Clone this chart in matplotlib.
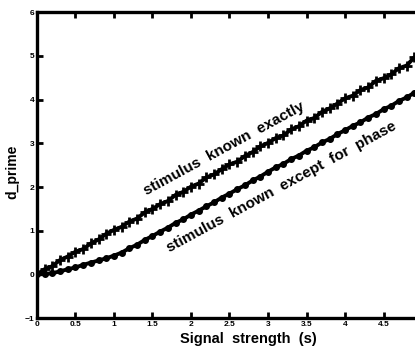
#!/usr/bin/env python3
"""d prime vs signal strength: known exactly vs known except for phase."""

import matplotlib
matplotlib.use('Agg')
import matplotlib.pyplot as plt

# signal strength grid (s)
signal = [0.0, 0.1, 0.2, 0.3, 0.4, 0.5, 0.6, 0.7, 0.8, 0.9,
	1.0, 1.1, 1.2, 1.3, 1.4, 1.5, 1.6, 1.7, 1.8, 1.9,
	2.0, 2.1, 2.2, 2.3, 2.4, 2.5, 2.6, 2.7, 2.8, 2.9,
	3.0, 3.1, 3.2, 3.3, 3.4, 3.5, 3.6, 3.7, 3.8, 3.9,
	4.0, 4.1, 4.2, 4.3, 4.4, 4.5, 4.6, 4.7, 4.8, 4.9, 5.0]

# simulated d' : stimulus known exactly
dprime_exact = [0.00, 0.12, 0.19, 0.33, 0.41, 0.52, 0.58, 0.71, 0.80, 0.93,
	1.02, 1.09, 1.21, 1.28, 1.42, 1.50, 1.61, 1.68, 1.82, 1.89,
	2.01, 2.08, 2.22, 2.29, 2.41, 2.52, 2.58, 2.71, 2.80, 2.93,
	3.01, 3.12, 3.18, 3.32, 3.39, 3.52, 3.58, 3.72, 3.80, 3.91,
	4.03, 4.09, 4.22, 4.28, 4.43, 4.49, 4.58, 4.72, 4.78, 4.97, 5.02]

# simulated d' : stimulus known except for phase
dprime_phase = [0.00, 0.01, 0.03, 0.07, 0.12, 0.16, 0.22, 0.27, 0.32, 0.37,
	0.43, 0.50, 0.60, 0.68, 0.79, 0.88, 0.98, 1.07, 1.18, 1.26,
	1.37, 1.46, 1.56, 1.65, 1.76, 1.85, 1.95, 2.04, 2.15, 2.24,
	2.35, 2.45, 2.53, 2.64, 2.72, 2.83, 2.91, 3.02, 3.10, 3.21,
	3.30, 3.40, 3.48, 3.59, 3.67, 3.78, 3.86, 3.97, 4.05, 4.16, 4.24]

x_ticks = [0, 0.5, 1, 1.5, 2, 2.5, 3, 3.5, 4, 4.5, 5]
# the "5" label falls off the right edge of the original scan
x_tick_labels = ['0', '0.5', '1', '1.5', '2', '2.5', '3', '3.5', '4', '4.5', '']
y_ticks = [-1, 0, 1, 2, 3, 4, 5, 6]

plt.rcParams['font.family'] = ['Liberation Sans', 'DejaVu Sans']
plt.rcParams['font.weight'] = 'bold'

fig = plt.figure(figsize=(4.15, 3.5), dpi=100)
ax = fig.add_axes([0.089, 0.091, 0.928, 0.874])

ax.plot(signal, dprime_exact, color='black', linewidth=2.8,
	marker='+', markersize=6.5, markeredgewidth=2)
ax.plot(signal, dprime_phase, color='black', linewidth=2.8,
	marker='o', markersize=4)

ax.set_xlim(0, 5)
ax.set_ylim(-1, 6)
ax.set_xticks(x_ticks)
ax.set_xticklabels(x_tick_labels)
ax.set_yticks(y_ticks)
ax.tick_params(direction='in', length=4, width=2, labelsize=6,
	top=True, right=True, pad=2)
for sp in ax.spines.values():
	sp.set_linewidth(2.4)

ax.set_xlabel('Signal  strength  (s)', fontsize=10.5, fontweight='bold',
	va='top')
ax.xaxis.set_label_coords(0.55, -0.045)
ax.set_ylabel('d_prime', fontsize=10, fontweight='bold')
ax.yaxis.set_label_coords(-0.045, 0.48)

ax.text(2.43, 2.87, 'stimulus  known  exactly', rotation=28.5,
	ha='center', va='center', fontsize=11, fontweight='bold')
ax.text(3.18, 2.0, 'stimulus  known  except  for  phase', rotation=28.5,
	ha='center', va='center', fontsize=11, fontweight='bold')

plt.savefig('out.png', dpi=100)
plt.close()
